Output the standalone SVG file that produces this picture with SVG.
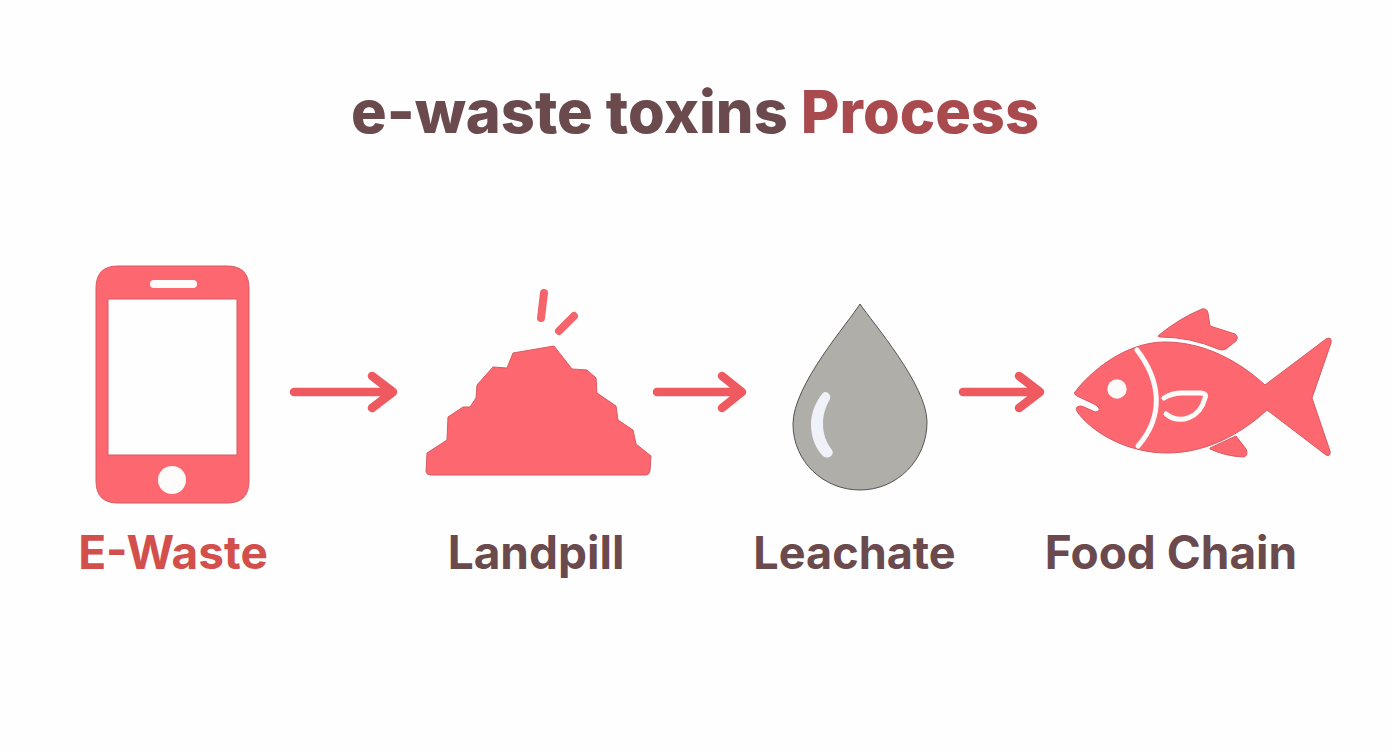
<svg xmlns="http://www.w3.org/2000/svg" width="1392" height="752" viewBox="0 0 1392 752">
<style>
.ic{fill:#fc6770;stroke:#d85a62;stroke-width:1;stroke-linejoin:round}
.cut{fill:none;stroke:#fefbfb;stroke-width:5;stroke-linecap:round;stroke-linejoin:round}
.ln{fill:none;stroke:#ee5a60;stroke-width:8.5;stroke-linecap:round;stroke-linejoin:round}
text{font-family:Inter,"Liberation Sans",sans-serif;font-weight:700;fill:#6b4a4e;text-anchor:middle}
.lb{font-size:46px}
</style>
<rect width="1392" height="752" fill="#fefefe"/>
<text id="title" x="695" y="133" style="font-size:59.5px;font-weight:800"><tspan>e-waste toxins </tspan><tspan style="fill:#a84a4e">Process</tspan></text>
<g id="e-waste">
<path fill-rule="evenodd" d="M118 266H227Q249 266 249 288V481Q249 503 227 503H118Q96 503 96 481V288Q96 266 118 266ZM108 299V455H237V299Z" class="ic"/>
<rect x="150" y="280" width="47" height="8" rx="4" fill="#fefbfb"/>
<circle cx="172" cy="480" r="14" fill="#fefbfb"/>
<text class="lb" x="173" y="569" style="fill:#d24f4c">E-Waste</text>
</g>
<g id="landfill">
<path class="ic" d="M426 472L427 453L447 440L448 417L463 407L470 407L476 398L477 385L493 367L507 368L513 353L554 346L572 369L587 370L596 378L597 393L616 406L618 420L633 430L636 444L651 456L650 471Q649 475 646 475H431Q427 475 426 472Z"/>
<path class="ln" style="stroke:#f5636b;stroke-width:8" d="M544 293L541 318M574 316L559 331"/>
<text class="lb" x="536" y="569">Landpill</text>
</g>
<g id="leachate">
<path d="M860 304C849 322 793 385 793 424C793 462 824 490 860 490C897 490 927 460 927 422C927 385 872 322 860 304Z" fill="#b0aea8" stroke="#55534f" stroke-width="1"/>
<path d="M823 393C815 402 811 414 811 424C811 438 816 449 823 456Q827 459 831 456Q834 453 832 450C826 442 823 434 823 424C823 414 826 406 830 399Q831 395 828 393Q825 391 823 393Z" fill="#f0f2fa"/>
<text class="lb" x="854.500" y="569" style="font-size:45px">Leachate</text>
</g>
<g id="food-chain">
<path class="ic" d="M1159 335Q1180 318 1202 309Q1207 308 1208 313L1210 326L1235 334Q1239 337 1236 341L1226 349Q1222 351 1218 349Q1190 337 1160 337Q1157 337 1159 335Z"/>
<path class="ic" d="M1210 448L1236 436L1246 449Q1249 456 1243 457Q1225 456 1210 449Z"/>
<path class="ic" d="M1075 392C1090 372 1125 342 1165 342C1205 342 1240 362 1265 385L1326 339Q1332 336 1331 343L1312 398L1330 451Q1331 457 1326 455L1267 410C1240 435 1205 453 1167 453C1130 453 1095 435 1078 413Q1075 409 1077 407Q1080 405 1084 407L1095 412Q1100 412 1099 408Q1098 406 1094 404L1077 396Q1073 394 1075 392Z"/>
<circle cx="1117" cy="389" r="9.7" fill="#fefbfb"/>
<path class="cut" d="M1137 350C1160 380 1165 415 1138 446"/>
<path class="cut" d="M1164 398Q1172 393 1182 393H1200Q1207 393 1205 398C1200 418 1180 425 1166 414"/>
<text class="lb" x="1171" y="569">Food Chain</text>
</g>
<g id="connectors">
<path class="ln" d="M294 392H392M372 376L393 392L372 408"/>
<path class="ln" d="M657 392H741M722 376L742 392L722 408"/>
<path class="ln" d="M963 392H1039M1019 376L1040 392L1019 408"/>
</g>
</svg>
